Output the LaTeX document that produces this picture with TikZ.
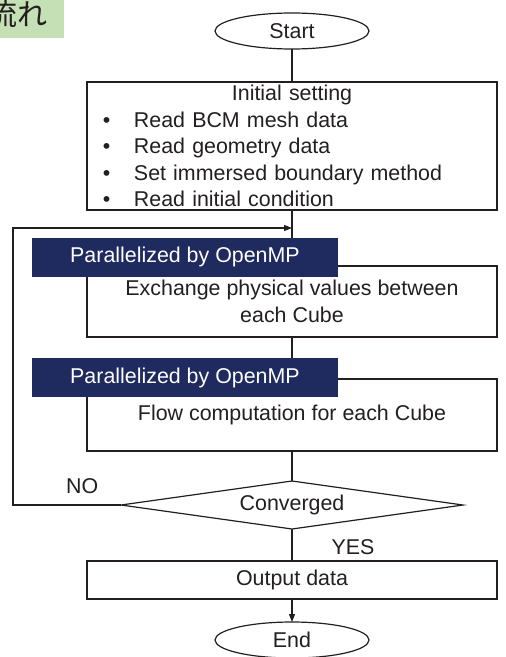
\documentclass[tikz,border=0pt]{standalone}
\usepackage{fontspec}
\setmainfont{Liberation Sans}
\newfontfamily\cjk{Noto Sans CJK JP}
\definecolor{flownavy}{HTML}{1F2A5E}
\definecolor{flowgreen}{HTML}{C5E0B4}
\definecolor{flowink}{HTML}{231F20}
\usetikzlibrary{
  shapes.geometric,
  arrows.meta,
  positioning,
  calc,
}
\newcommand\flowfont{\fontsize{21.4bp}{26.5bp}\selectfont}
\newcommand\bitem{\makebox[31bp][l]{\textbullet}}

\begin{document}
\begin{tikzpicture}[
  x=1bp, y=-1bp,
  term/.style={
    ellipse,
    draw=flowink,
    line width=1.2bp,
    fill=white,
    minimum width=154bp,
    minimum height=36bp,
    inner sep=0pt,
    outer sep=0pt,
    text=flowink,
    font=\flowfont,
  },
  proc/.style={
    draw=flowink,
    line width=1.2bp,
    fill=white,
    minimum width=410bp,
    inner sep=0pt,
    outer sep=0pt,
    align=center,
    text=flowink,
    font=\flowfont,
  },
  decision/.style={
    diamond,
    aspect=7.1,
    draw=flowink,
    line width=1.2bp,
    fill=white,
    minimum width=342bp,
    minimum height=48bp,
    inner sep=0pt,
    outer sep=0pt,
    text=flowink,
    font=\flowfont,
  },
  ompbar/.style={
    fill=flownavy,
    minimum width=306bp,
    minimum height=39bp,
    inner sep=0pt,
    outer sep=0pt,
    text=white,
    font=\flowfont,
  },
  tagbox/.style={
    fill=flowgreen,
    minimum height=48bp,
    inner xsep=16bp,
    inner ysep=0pt,
    outer sep=0pt,
    text=flowink,
    font=\cjk\fontsize{30bp}{30bp}\selectfont,
  },
  arr/.style={
    -{Triangle[length=8bp, width=6bp]},
    line width=1.2bp,
    draw=flowink,
  },
  link/.style={
    line width=1.2bp,
    draw=flowink,
  },
  lbl/.style={
    font=\flowfont,
    text=flowink,
    inner sep=0pt,
  },
]

\useasboundingbox (0,0) rectangle (506,657);

% section tag, runs off the top left corner
\node[tagbox, anchor=south east] (tag) at (64,38) {流れ};

% =============================================================================
% Main column
% =============================================================================
\node[term] (start) at (292,31) {Start};

\node[proc, below=33bp of start, minimum height=128bp,
      text width=378bp, align=left] (init) {%
  \makebox[378bp]{Initial setting}\\
  \bitem Read BCM mesh data\\
  \bitem Read geometry data\\
  \bitem Set immersed boundary method\\
  \bitem Read initial condition};

\node[proc, below=56bp of init, minimum height=71bp] (exch) {%
  Exchange physical values between\\each Cube};
\node[proc, below=42bp of exch, minimum height=72bp] (flow) {%
  Flow computation for each Cube};

\node[decision, below=30bp of flow] (conv) {Converged};
\node[proc, below=32bp of conv, minimum height=38bp] (out) {Output data};
\node[term, below=23bp of out] (stop) {End};

% =============================================================================
% Connectors
% =============================================================================
\draw[link] (start) -- (init);
\draw[link] (init) -- (exch);
\draw[link] (exch) -- (flow);
\draw[link] (flow) -- (conv);
\draw[link] (conv) -- node[lbl, right=39bp, pos=0.56] {YES} (out);
\draw[arr] (out) -- (stop);

% NO: back round the left side into the loop head
\coordinate (join) at ([yshift=-18bp]init.south);
\draw[arr]
  (conv.west) -- node[lbl, above=11bp, pos=0.36] {NO} ++(-108,0)
  |- (join);

% OpenMP bars sit on the top left of both loop boxes
\node[ompbar, anchor=south west] (omp1)
  at ([xshift=-55bp, yshift=-10.7bp]exch.north west) {Parallelized by OpenMP};
\node[ompbar, anchor=south west] (omp2)
  at ([xshift=-55bp, yshift=-18.4bp]flow.north west) {Parallelized by OpenMP};

\end{tikzpicture}
\end{document}
